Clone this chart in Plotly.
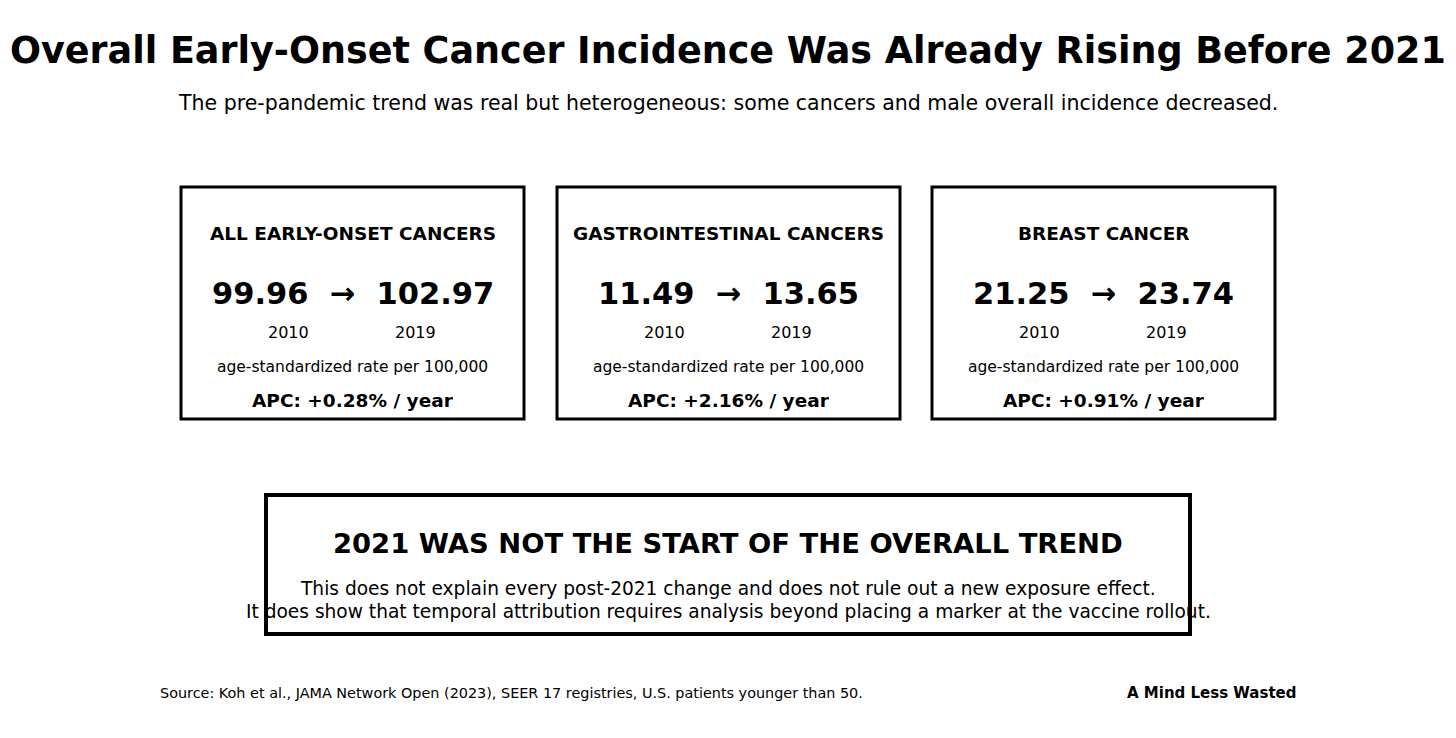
import plotly.graph_objects as go

# Koh et al. 2023, SEER 17, patients younger than 50
categories = ["ALL EARLY-ONSET CANCERS", "GASTROINTESTINAL CANCERS", "BREAST CANCER"]
rate_2010 = [99.96, 11.49, 21.25]
rate_2019 = [102.97, 13.65, 23.74]
apc = [0.28, 2.16, 0.91]
years = ["2010", "2019"]

title = "Overall Early-Onset Cancer Incidence Was Already Rising Before 2021"
subtitle = ("The pre-pandemic trend was real but heterogeneous: "
            "some cancers and male overall incidence decreased.")
callout_head = "2021 WAS NOT THE START OF THE OVERALL TREND"
callout_body = [
    "This does not explain every post-2021 change and does not rule out a new exposure effect.",
    "It does show that temporal attribution requires analysis beyond placing a marker at the vaccine rollout.",
]
source = "Source: Koh et al., JAMA Network Open (2023), SEER 17 registries, U.S. patients younger than 50."
brand = "A Mind Less Wasted"

W, H = 1456, 738
OFF = 8  # page body margin
FONT = "DejaVu Sans"


def main():
    fig = go.Figure()

    # invisible trace so the axes exist
    fig.add_trace(go.Scatter(x=[OFF, W], y=[OFF, H], mode="markers",
                             marker=dict(opacity=0), hoverinfo="skip", showlegend=False))

    def text(x, y, s, size, bold=False, anchor="center"):
        fig.add_annotation(x=x, y=y, text=f"<b>{s}</b>" if bold else s, showarrow=False,
                           xanchor=anchor, yanchor="middle",
                           font=dict(family=FONT, size=size, color="black"))

    text(W / 2, 50, title, 36.5, bold=True)
    text(W / 2, 103, subtitle, 20.5)

    box_left = [181, 557, 932]
    box_w = 343
    for i, cat in enumerate(categories):
        x0 = box_left[i]
        cx = x0 + box_w / 2
        fig.add_shape(type="rect", x0=x0, x1=x0 + box_w, y0=187, y1=419,
                      line=dict(color="black", width=3), fillcolor="white", layer="below")
        text(cx, 233, cat, 18.5, bold=True)
        text(cx, 293, f"{rate_2010[i]:.2f}  \u2192  {rate_2019[i]:.2f}", 30.5, bold=True)
        text(cx - 64, 332, years[0], 16)
        text(cx + 63, 332, years[1], 16)
        text(cx, 367, "age-standardized rate per 100,000", 15.5)
        text(cx, 400, f"APC: +{apc[i]:.2f}% / year", 18.5, bold=True)

    fig.add_shape(type="rect", x0=266, x1=1190, y0=495, y1=634,
                  line=dict(color="black", width=4), fillcolor="white", layer="below")
    text(728, 543, callout_head, 27.4, bold=True)
    text(728, 588, callout_body[0], 18.6)
    text(728, 611, callout_body[1], 18.6)

    text(158, 693, source, 14.4, anchor="left")
    text(1299, 693, brand, 15, bold=True, anchor="right")

    fig.update_xaxes(range=[OFF, W + OFF], visible=False, fixedrange=True)
    fig.update_yaxes(range=[H + OFF, OFF], visible=False, fixedrange=True)
    fig.update_layout(width=W, height=H, margin=dict(l=0, r=0, t=0, b=0),
                      paper_bgcolor="white", plot_bgcolor="white")

    fig.write_html("out.html")


if __name__ == "__main__":
    main()
